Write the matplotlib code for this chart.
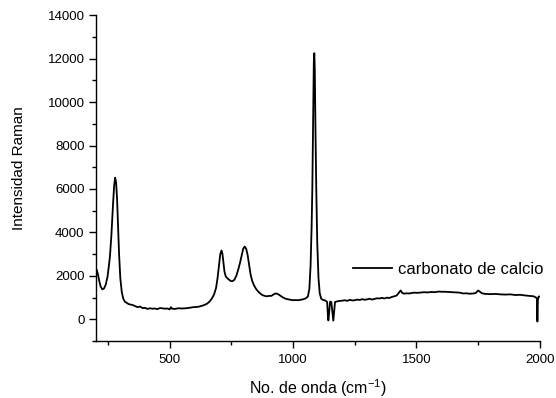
import matplotlib
matplotlib.use("Agg")
import matplotlib.pyplot as plt
from matplotlib.ticker import MultipleLocator

plt.rcParams["font.family"] = ["Liberation Sans", "DejaVu Sans"]
plt.rcParams["mathtext.fontset"] = "custom"
plt.rcParams["mathtext.rm"] = "Liberation Sans"

# Raman spectrum of calcium carbonate (wavenumber in cm^-1, intensity in counts)
wavenumber = [
    200, 204, 209, 214, 220, 227, 234, 241, 248, 253, 258, 264, 270, 275, 279,
    283, 287, 291, 295, 300, 306, 312, 318, 326, 334, 342, 350, 360, 370, 380,
    390, 400, 410, 420, 430, 440, 450, 460, 470, 480, 490, 500, 505, 510, 520,
    535, 550, 565, 580, 595, 610, 620, 630, 640, 650, 660, 670, 680, 688, 694,
    700, 705, 710, 714, 718, 722, 727, 733, 740, 748, 755, 762, 770, 778, 785,
    792, 798, 804, 810, 816, 822, 828, 835, 842, 850, 858, 866, 875, 885, 893,
    903, 912, 920, 928, 935, 942, 950, 960, 970, 980, 990, 1000, 1010, 1020,
    1030, 1040, 1050, 1060, 1066, 1071, 1075, 1078, 1081, 1084, 1086, 1088,
    1091, 1094, 1098, 1103, 1108, 1114, 1120, 1126, 1132, 1138, 1141, 1143,
    1146, 1150, 1155, 1160, 1163, 1166, 1170, 1180, 1190, 1200, 1210, 1220,
    1230, 1240, 1250, 1260, 1270, 1280, 1290, 1300, 1310, 1320, 1330, 1340,
    1350, 1360, 1370, 1380, 1390, 1400, 1410, 1420, 1430, 1436, 1442, 1450,
    1460, 1470, 1480, 1490, 1500, 1515, 1530, 1545, 1560, 1575, 1590, 1600,
    1615, 1630, 1645, 1660, 1675, 1690, 1700, 1715, 1730, 1740, 1750, 1756,
    1765, 1780, 1800, 1820, 1840, 1860, 1880, 1900, 1920, 1940, 1960, 1975,
    1985, 1988, 1990, 1992, 1995, 2000,
]
intensity = [
    2200, 2280, 2100, 1800, 1520, 1380, 1420, 1600, 1950, 2400, 2900, 3900,
    5200, 6150, 6520, 6300, 5500, 4300, 3000, 1900, 1250, 950, 820, 760, 700,
    680, 660, 610, 560, 590, 520, 530, 480, 510, 490, 500, 470, 520, 510, 490,
    500, 460, 560, 490, 480, 510, 500, 510, 530, 560, 570, 590, 620, 660, 710,
    800, 940, 1150, 1450, 1900, 2500, 3000, 3170, 3000, 2600, 2200, 1980, 1900,
    1830, 1760, 1760, 1820, 2000, 2300, 2600, 2950, 3250, 3350, 3250, 2950,
    2500, 2050, 1750, 1560, 1400, 1290, 1200, 1120, 1080, 1060, 1080, 1080,
    1140, 1190, 1180, 1140, 1080, 1000, 950, 920, 900, 880, 890, 880, 900, 920,
    960, 1050, 1400, 2500, 4200, 6000, 9000, 11800, 12250, 11500, 8500, 6000,
    3500, 1900, 1200, 950, 900, 880, 860, 800, 200, -50, 300, 820, 800, 250,
    -60, 300, 800, 830, 850, 860, 880, 850, 900, 870, 880, 910, 890, 930, 900,
    920, 950, 910, 940, 970, 960, 990, 960, 1000, 980, 1030, 1060, 1100, 1240,
    1330, 1220, 1180, 1200, 1190, 1210, 1230, 1220, 1230, 1250, 1240, 1260,
    1250, 1280, 1270, 1270, 1260, 1250, 1240, 1230, 1190, 1200, 1180, 1190,
    1210, 1330, 1280, 1200, 1170, 1160, 1170, 1150, 1140, 1150, 1120, 1130,
    1100, 1080, 1060, 1000, 950, -100, 900, 1050, 1050,
]

fig = plt.figure(figsize=(5.56, 3.98), dpi=100)
ax = fig.add_axes([0.172, 0.143, 0.799, 0.819])

ax.plot(wavenumber, intensity, color="black", lw=1.3, label="carbonato de calcio")

ax.set_xlim(200, 2000)
ax.set_ylim(-1000, 14000)
ax.xaxis.set_major_locator(MultipleLocator(500))
ax.xaxis.set_minor_locator(MultipleLocator(250))
ax.yaxis.set_minor_locator(MultipleLocator(1000))
ax.set_yticks([0, 2000, 4000, 6000, 8000, 10000, 12000, 14000])

for side in ("top", "right"):
    ax.spines[side].set_visible(False)
for side in ("left", "bottom"):
    ax.spines[side].set_linewidth(1.0)

ax.tick_params(which="major", direction="out", length=5, width=1.0,
               labelsize=9.5)
ax.tick_params(axis="x", which="major", pad=4.5)
ax.tick_params(axis="y", which="major", pad=3)
ax.tick_params(which="minor", direction="out", length=3.2, width=1.0)

ax.set_xlabel(r"No. de onda (cm$^{\mathregular{-1}}$)", fontsize=11.5)
ax.set_ylabel("Intensidad Raman", fontsize=11)
ax.xaxis.set_label_coords(0.5, -0.11)
ax.yaxis.set_label_coords(-0.157, 0.531)

ax.legend(loc="center left", bbox_to_anchor=(0.579, 0.219), frameon=False,
          fontsize=12, handlelength=2.35, handletextpad=0.35, borderpad=0,
          borderaxespad=0)

fig.savefig("out.png", dpi=100)
